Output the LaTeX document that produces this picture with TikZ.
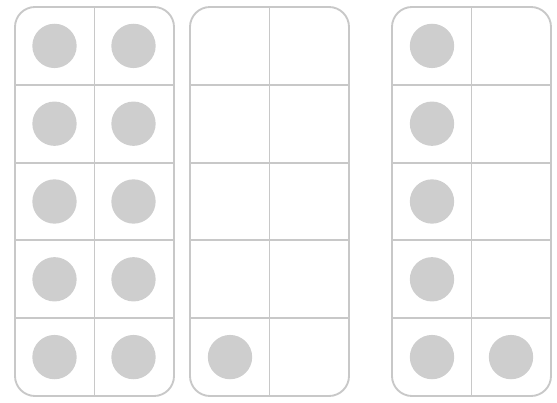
\documentclass[tikz,border=0pt]{standalone}
\usepackage{xcolor}
\usepackage{tikz}
\definecolor{framegray}{RGB}{200,200,200}
\definecolor{dotgray}{RGB}{206,206,206}

\begin{document}
\begin{tikzpicture}[
  x=0.03cm, y=-0.03cm,
  frame/.style={draw=framegray, line width=1.6pt, rounded corners=0.6cm},
  gridline/.style={draw=framegray, line width=1.6pt},
  counter/.style={circle, fill=dotgray, inner sep=0pt, minimum size=1.33cm}
]
\useasboundingbox (0,0) rectangle (557,403);
% the three frames, 2 columns x 5 rows each
\foreach \left/\name in {15/a, 190/b, 392/c} {
  \draw[frame] (\left,7) rectangle ++(159,389);
  \draw[gridline] (\left+79.5,7) -- (\left+79.5,396);
  \foreach \k in {1,...,4}
    \draw[gridline] (\left,7+77.8*\k) -- (\left+159,7+77.8*\k);
}
% counters in the first frame
\foreach \r in {1,...,5} {
  \node[counter] (a\r l) at (54.5,7+77.8*\r-38.9) {};
  \node[counter] (a\r r) at (133.5,7+77.8*\r-38.9) {};
}
% counter in the second frame
\node[counter] (b5l) at (230,357.1) {};
% counters in the third frame
\foreach \r in {1,...,5}
  \node[counter] (c\r l) at (432,7+77.8*\r-38.9) {};
\node[counter] (c5r) at (511,357.1) {};
\end{tikzpicture}
\end{document}
